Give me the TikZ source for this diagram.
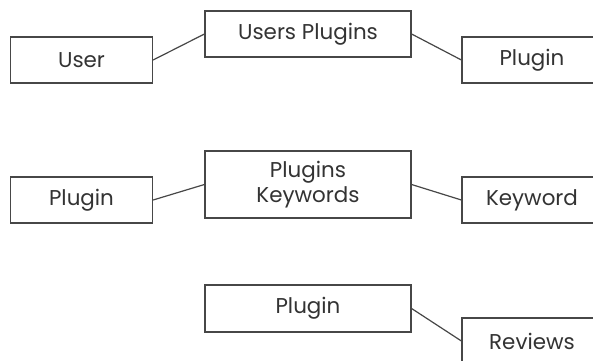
\documentclass[tikz,border=0pt]{standalone}
\usepackage{fontspec}
\setmainfont{Poppins}
\begin{document}
\begin{tikzpicture}[x=1bp,y=-1bp,
  box/.style={draw=black!72, line width=1.2bp, rectangle, inner sep=0pt,
    text=black!80, font=\fontsize{21.5}{25}\selectfont, align=center},
  link/.style={draw=black!72, line width=1.2bp}]
\useasboundingbox[fill=white] (0,0) rectangle (593,360);
\clip (0,0) rectangle (593,360);
% row 1
\node[box, minimum width=142bp, minimum height=46bp] (user) at (81.5,60) {User};
\node[box, minimum width=206bp, minimum height=46bp] (up) at (308,34) {Users Plugins};
\node[box, minimum width=140bp, minimum height=46bp] (plugA) at (532,60) {Plugin};
% row 2
\node[box, minimum width=142bp, minimum height=46bp] (plugB) at (81.5,200) {Plugin};
\node[box, minimum width=206bp, minimum height=67bp] (pk) at (308,184.5) {Plugins\\Keywords};
\node[box, minimum width=140bp, minimum height=46bp] (kw) at (532,200) {Keyword};
% row 3
\node[box, minimum width=206bp, minimum height=47bp] (plugC) at (308,308.5) {Plugin};
\node[box, minimum width=140bp, minimum height=46bp] (rev) at (532,341) {Reviews};
% connectors
\draw[link] (user.east) -- (up.west);
\draw[link] (up.east) -- (plugA.west);
\draw[link] (plugB.east) -- (pk.west);
\draw[link] (pk.east) -- (kw.west);
\draw[link] (plugC.east) -- (rev.west);
\end{tikzpicture}
\end{document}
